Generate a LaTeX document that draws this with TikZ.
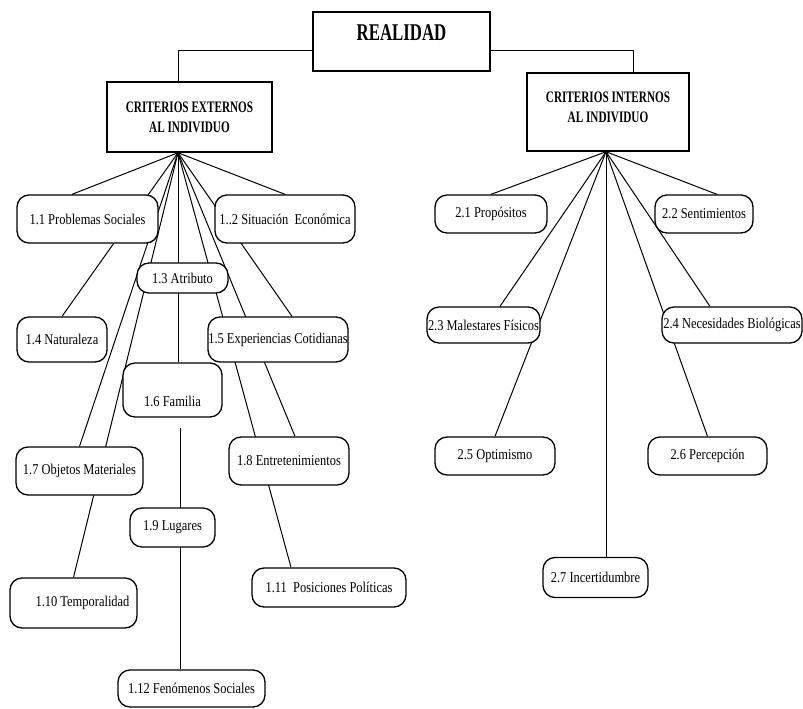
\documentclass[tikz,border=0pt]{standalone}
\usepackage{fontspec}
\setmainfont{Liberation Serif}[FakeStretch=0.83]
\newfontfamily\titlefont{Liberation Serif}[FakeStretch=0.7]
\usetikzlibrary{backgrounds}
\begin{document}
\begin{tikzpicture}[x=1pt,y=-1pt,
  every node/.style={inner sep=0pt},
  caja/.style={draw,line width=1.5pt,fill=white,align=center,font=\titlefont\bfseries\fontsize{16}{20}\selectfont},
  hoja/.style={draw,line width=1.3pt,rounded corners=12pt,fill=white,font=\fontsize{15}{17}\selectfont},
  rama/.style={line width=1pt}]
\useasboundingbox (0,0) rectangle (803,709);
% cajas principales
\node[caja,minimum width=177pt,minimum height=59pt,text depth=17pt,font=\titlefont\bfseries\fontsize{24}{26}\selectfont] (real) at (401.5,41.5) {REALIDAD};
\node[caja,minimum width=165pt,minimum height=70pt] (externo) at (189.5,117) {CRITERIOS EXTERNOS\\AL INDIVIDUO};
\node[caja,minimum width=162pt,minimum height=78pt,text depth=10pt] (interno) at (608,112) {CRITERIOS INTERNOS\\AL INDIVIDUO};
\coordinate (exthub) at ([xshift=-11.5pt]externo.south);
\coordinate (inthub) at ([xshift=-2pt]interno.south);
% criterios externos
\node[hoja,minimum width=141pt,minimum height=48pt] (p11) at (87.5,219) {1.1 Problemas Sociales};
\node[hoja,minimum width=140pt,minimum height=48pt] (p12) at (285,219) {1..2 Situación \ Económica};
\node[hoja,minimum width=91pt,minimum height=30pt] (p13) at (182.5,278) {1.3 Atributo};
\node[hoja,minimum width=90pt,minimum height=45pt] (p14) at (62,339.5) {1.4 Naturaleza};
\node[hoja,minimum width=140pt,minimum height=45pt] (p15) at (278,339.5) {1.5 Experiencias Cotidianas};
\node[hoja,minimum width=99pt,minimum height=54pt,text height=36pt,text depth=3pt] (p16) at (172.5,390) {1.6 Familia};
\node[hoja,minimum width=127pt,minimum height=48pt] (p17) at (79.5,471) {1.7 Objetos Materiales};
\node[hoja,minimum width=120pt,minimum height=48pt] (p18) at (289,461) {1.8 Entretenimientos};
\node[hoja,minimum width=85pt,minimum height=39pt] (p19) at (172.5,527.5) {1.9 Lugares};
\node[hoja,minimum width=127pt,minimum height=50pt] (p110) at (73.5,603) {\hspace{18pt}1.10 Temporalidad};
\node[hoja,minimum width=154pt,minimum height=39pt] (p111) at (329,587.5) {1.11 \ Posiciones Políticas};
\node[hoja,minimum width=147pt,minimum height=37pt] (p112) at (191.5,688.5) {1.12 Fenómenos Sociales\hspace{14pt}};
% criterios internos
\node[hoja,minimum width=112pt,minimum height=38pt] (p21) at (491,214) {2.1 Propósitos};
\node[hoja,minimum width=98pt,minimum height=38pt] (p22) at (704,214) {2.2 Sentimientos};
\node[hoja,minimum width=113pt,minimum height=36pt] (p23) at (483.5,325) {2.3 Malestares Físicos};
\node[hoja,minimum width=140pt,minimum height=36pt] (p24) at (732,325) {2.4 Necesidades Biológicas};
\node[hoja,minimum width=120pt,minimum height=38pt] (p25) at (495,456) {2.5 Optimismo};
\node[hoja,minimum width=119pt,minimum height=38pt] (p26) at (707.5,456) {2.6 Percepción};
\node[hoja,minimum width=105pt,minimum height=40pt] (p27) at (595.5,577.5) {2.7 Incertidumbre};
\begin{scope}[on background layer]
\draw[rama] ([yshift=-9.5pt]real.west) -| (exthub |- externo.north);
\draw[rama] ([yshift=-9.5pt]real.east) -| ([xshift=25pt]interno.north);
% ramas externas
\draw[rama] (exthub) -- ([xshift=-15.5pt]p11.north);
\draw[rama] (exthub) -- (p14.north);
\draw[rama] (exthub) -- (p17.north);
\draw[rama] (exthub) -- (p110.north);
\draw[rama] (exthub) -- (exthub |- p16.north);
\draw[rama] ([xshift=2pt,yshift=-10pt]exthub |- p16.south) -- ([xshift=2pt]exthub |- p112.north);
\draw[rama] (exthub) -- ([xshift=-38pt]p111.north);
\draw[rama] (exthub) -- ([xshift=6pt]p18.north);
\draw[rama] (exthub) -- ([xshift=14pt]p15.north);
\draw[rama] (exthub) -- (p12.north);
% ramas internas
\draw[rama] (inthub) -- (p21.north);
\draw[rama] (inthub) -- ([xshift=16.5pt]p23.north);
\draw[rama] (inthub) -- (p25.north);
\draw[rama] (inthub) -- (inthub |- p27.north);
\draw[rama] (inthub) -- (p26.north);
\draw[rama] (inthub) -- ([xshift=-22pt]p24.north);
\draw[rama] (inthub) -- ([xshift=13pt]p22.north);
\end{scope}
\end{tikzpicture}
\end{document}
